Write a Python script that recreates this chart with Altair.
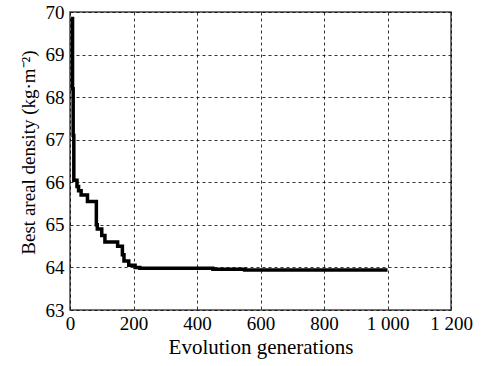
import altair as alt
import pandas as pd

gens = [3, 8, 10, 12, 22, 27, 35, 55, 83, 86, 100, 110, 150, 165, 170, 185, 205, 220, 450, 550, 1000]
vals = [69.85, 68.2, 67.1, 66.05, 65.9, 65.8, 65.7, 65.55, 65.0, 64.9, 64.75, 64.6, 64.5, 64.3, 64.15, 64.05, 64.0, 63.98, 63.96, 63.94, 63.94]
x_ticks = [0, 200, 400, 600, 800, 1000, 1200]
y_ticks = [63, 64, 65, 66, 67, 68, 69, 70]

df = pd.DataFrame({"gen": gens, "val": vals})

font = "Liberation Serif"

chart = alt.Chart(df).mark_line(
    interpolate="step-after", color="black", strokeWidth=3.5, strokeJoin="miter", strokeCap="butt"
).encode(
    x=alt.X("gen:Q", scale=alt.Scale(domain=[0, 1200], nice=False),
            axis=alt.Axis(values=x_ticks, title="Evolution generations",
                          labelExpr="datum.value == 1000 ? '1 000' : datum.value == 1200 ? '1 200' : datum.label",
                          titlePadding=3, labelPadding=4, titleFontSize=21)),
    y=alt.Y("val:Q", scale=alt.Scale(domain=[63, 70], nice=False, zero=False),
            axis=alt.Axis(values=y_ticks, title="Best areal density (kg·m⁻²)",
                          titlePadding=7, labelPadding=6, titleFontSize=19, titleY=140)),
).properties(
    width=381, height=298,
    background="white",
    autosize=alt.AutoSizeParams(type="none"),
    padding={"left": 70, "top": 12, "right": 33, "bottom": 56},
).configure_view(
    stroke="#444", strokeWidth=1.5
).configure_axis(
    labelFont=font, titleFont=font, labelFontSize=19,
    labelColor="black", titleColor="black", titleFontWeight="normal",
    labelOverlap=False, labelBound=False, labelFlush=False,
    domain=False, ticks=False,
    grid=True, gridColor="black", gridDash=[3, 3], gridWidth=1, gridOpacity=0.8,
)

chart.save("out.html", embed_options={"renderer": "svg", "actions": False})
